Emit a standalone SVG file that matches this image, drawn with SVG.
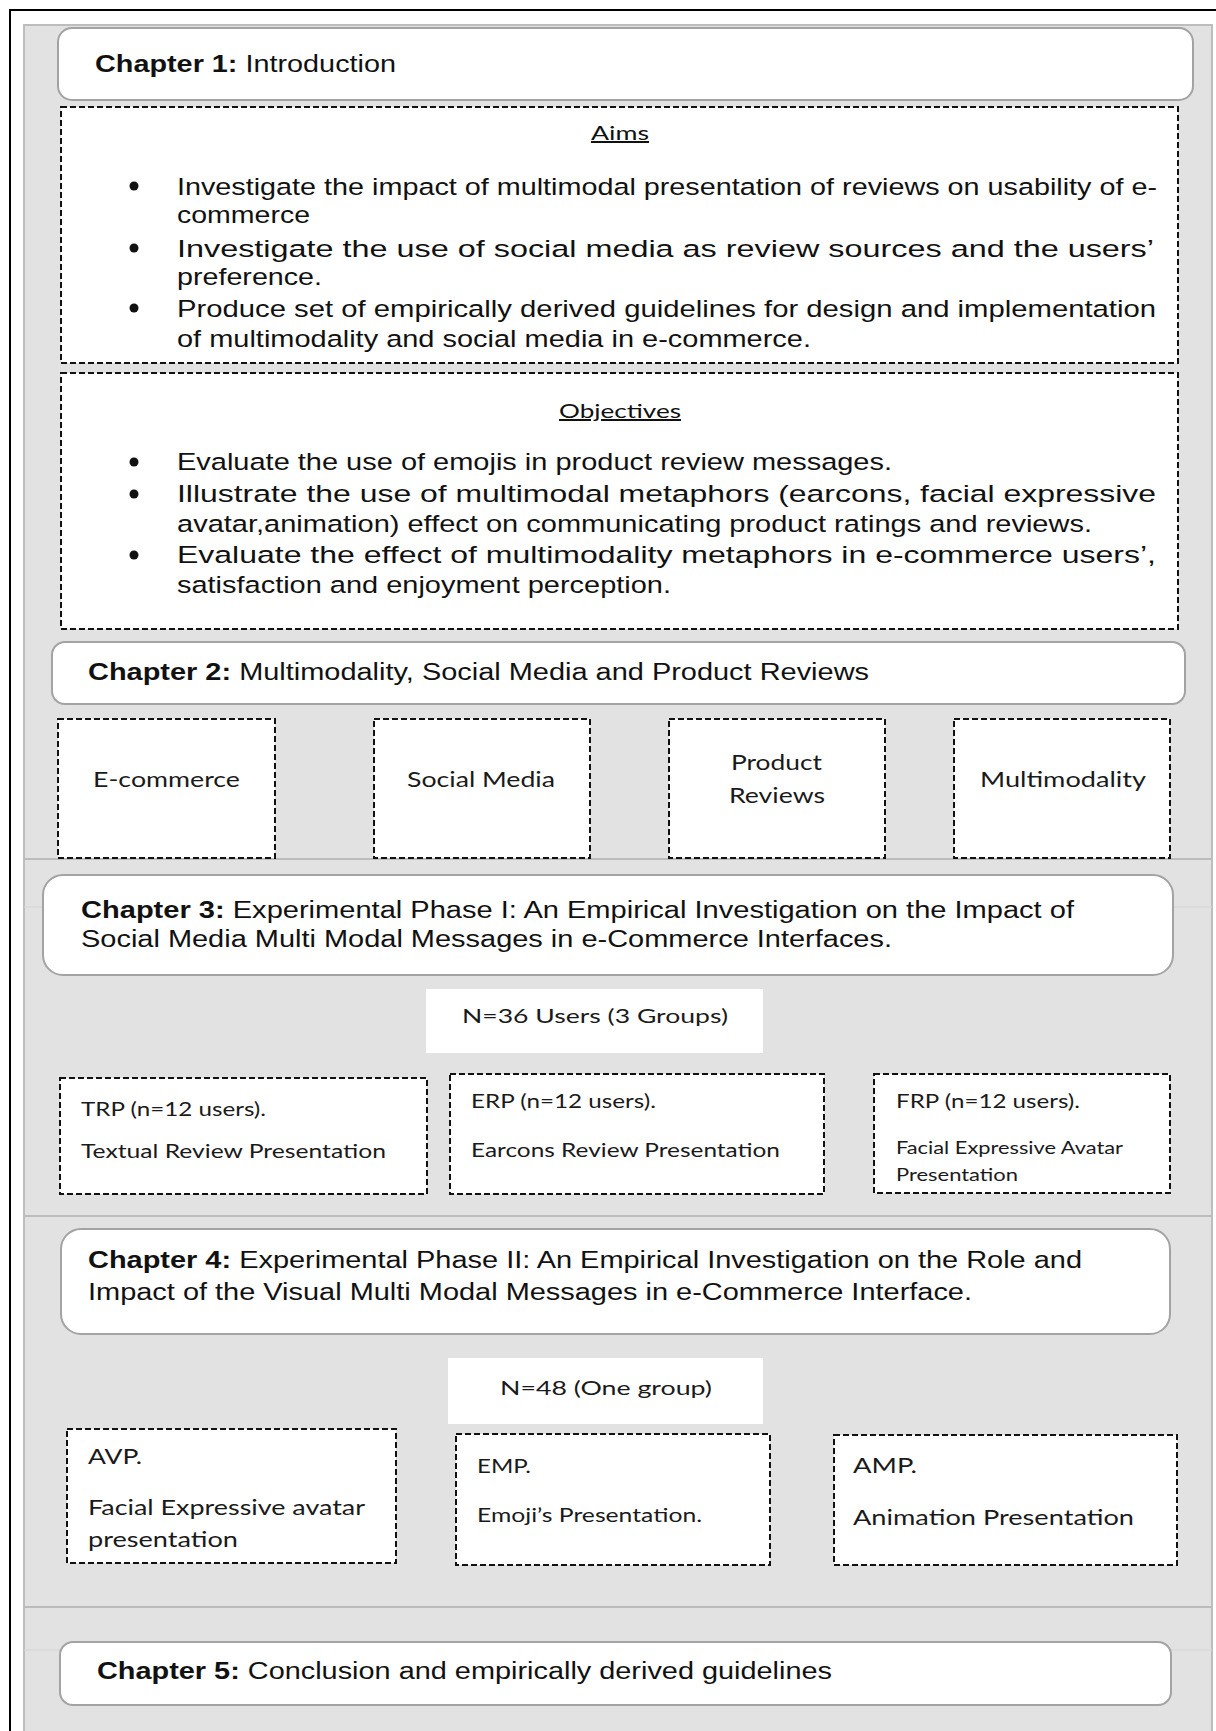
<svg xmlns="http://www.w3.org/2000/svg" width="1216" height="1731" viewBox="0 0 1216 1731">
  <style>
    .chap { fill: #ffffff; stroke: #a3a3a3; stroke-width: 2; }
    .dash { fill: #ffffff; stroke: #111111; stroke-width: 2; stroke-dasharray: 6 3; }
    .plain { fill: #ffffff; stroke: none; }
    .sep { stroke: #bcbcbc; stroke-width: 2; fill: none; }
    .faint { stroke: #d5d5d5; stroke-width: 1; fill: none; }
    .dot { fill: #111111; }
    .h { font-family: "Liberation Sans", Arial, sans-serif; font-size: 23.5px; fill: #111111; }
    .b { font-weight: bold; }
    .li { font-family: "Liberation Sans", Arial, sans-serif; font-size: 24.5px; fill: #111111; }
    .ttl { font-family: Lato, "Noto Sans", sans-serif; font-size: 20px; fill: #111111; text-decoration: underline; }
    .c21 { font-family: Lato, "Noto Sans", sans-serif; font-size: 21px; fill: #1a1a1a; }
    .c19 { font-family: Lato, "Noto Sans", sans-serif; font-size: 18.6px; fill: #1a1a1a; }
    .c18 { font-family: Lato, "Noto Sans", sans-serif; font-size: 18.5px; fill: #1a1a1a; }
    .c17 { font-family: Lato, "Noto Sans", sans-serif; font-size: 17.7px; fill: #1a1a1a; }
  </style>

  <!-- page frame and shaded table area -->
  <g id="background">
    <rect x="0" y="0" width="1216" height="1731" fill="#ffffff"/>
    <rect x="24" y="25" width="1188" height="1712" fill="#e2e2e2" stroke="#bdbdbd" stroke-width="2"/>
    <path d="M10 1731 V10 H1216" fill="none" stroke="#000000" stroke-width="2"/>
    <line class="sep" x1="24" y1="859" x2="1212" y2="859"/>
    <line class="sep" x1="24" y1="1216" x2="1212" y2="1216"/>
    <line class="sep" x1="24" y1="1607" x2="1212" y2="1607"/>
    <line class="faint" x1="24" y1="907" x2="1212" y2="907"/>
    <line class="faint" x1="24" y1="1650" x2="1212" y2="1650"/>
  </g>

  <!-- no connectors in this layout -->
  <g id="connectors"></g>

  <!-- Chapter 1 -->
  <g id="chapter1">
    <rect class="chap" x="58" y="28" width="1135" height="72" rx="14"/>
    <text class="h" x="95" y="72" textLength="301" lengthAdjust="spacingAndGlyphs"><tspan class="b">Chapter 1:</tspan> Introduction</text>
  </g>

  <g id="aims">
    <rect class="dash" x="61" y="107" width="1117" height="256"/>
    <text class="ttl" x="591" y="140" textLength="58" lengthAdjust="spacingAndGlyphs">Aims</text>
    <circle class="dot" cx="134" cy="186" r="4.5"/>
    <text class="li" x="177" y="195" textLength="980" lengthAdjust="spacingAndGlyphs">Investigate the impact of multimodal presentation of reviews on usability of e-</text>
    <text class="li" x="177" y="223" textLength="133" lengthAdjust="spacingAndGlyphs">commerce</text>
    <circle class="dot" cx="134" cy="248" r="4.5"/>
    <text class="li" x="177" y="257" textLength="977" lengthAdjust="spacingAndGlyphs">Investigate the use of social media as review sources and the users’</text>
    <text class="li" x="177" y="285" textLength="145" lengthAdjust="spacingAndGlyphs">preference.</text>
    <circle class="dot" cx="134" cy="308" r="4.5"/>
    <text class="li" x="177" y="317" textLength="979" lengthAdjust="spacingAndGlyphs">Produce set of empirically derived guidelines for design and implementation</text>
    <text class="li" x="177" y="347" textLength="634" lengthAdjust="spacingAndGlyphs">of multimodality and social media in e-commerce.</text>
  </g>

  <g id="objectives">
    <rect class="dash" x="61" y="373" width="1117" height="256"/>
    <text class="ttl" x="559" y="418" textLength="122" lengthAdjust="spacingAndGlyphs">Objectives</text>
    <circle class="dot" cx="134" cy="462" r="4.5"/>
    <text class="li" x="177" y="470" textLength="715" lengthAdjust="spacingAndGlyphs">Evaluate the use of emojis in product review messages.</text>
    <circle class="dot" cx="134" cy="494" r="4.5"/>
    <text class="li" x="177" y="502" textLength="979" lengthAdjust="spacingAndGlyphs">Illustrate the use of multimodal metaphors (earcons, facial expressive</text>
    <text class="li" x="177" y="532" textLength="915" lengthAdjust="spacingAndGlyphs">avatar,animation) effect on communicating product ratings and reviews.</text>
    <circle class="dot" cx="134" cy="555" r="4.5"/>
    <text class="li" x="177" y="563" textLength="979" lengthAdjust="spacingAndGlyphs">Evaluate the effect of multimodality metaphors in e-commerce users’,</text>
    <text class="li" x="177" y="593" textLength="494" lengthAdjust="spacingAndGlyphs">satisfaction and enjoyment perception.</text>
  </g>

  <!-- Chapter 2 -->
  <g id="chapter2">
    <rect class="chap" x="52" y="642" width="1133" height="62" rx="13"/>
    <text class="h" x="88" y="680" textLength="781" lengthAdjust="spacingAndGlyphs"><tspan class="b">Chapter 2:</tspan> Multimodality, Social Media and Product Reviews</text>
  </g>

  <g id="ecommerce">
    <rect class="dash" x="58" y="719" width="217" height="139"/>
    <text class="c21" x="93" y="787" textLength="147" lengthAdjust="spacingAndGlyphs">E-commerce</text>
  </g>
  <g id="social-media">
    <rect class="dash" x="374" y="719" width="216" height="139"/>
    <text class="c21" x="407" y="787" textLength="148" lengthAdjust="spacingAndGlyphs">Social Media</text>
  </g>
  <g id="product-reviews">
    <rect class="dash" x="669" y="719" width="216" height="139"/>
    <text class="c21" x="731" y="770" textLength="91" lengthAdjust="spacingAndGlyphs">Product</text>
    <text class="c21" x="729" y="803" textLength="96" lengthAdjust="spacingAndGlyphs">Reviews</text>
  </g>
  <g id="multimodality">
    <rect class="dash" x="954" y="719" width="216" height="139"/>
    <text class="c21" x="980" y="787" textLength="166" lengthAdjust="spacingAndGlyphs">Multimodality</text>
  </g>

  <!-- Chapter 3 -->
  <g id="chapter3">
    <rect class="chap" x="43" y="875" width="1130" height="100" rx="20"/>
    <text class="h" x="81" y="918" textLength="993" lengthAdjust="spacingAndGlyphs"><tspan class="b">Chapter 3:</tspan> Experimental Phase I: An Empirical Investigation on the Impact of</text>
    <text class="h" x="81" y="947" textLength="811" lengthAdjust="spacingAndGlyphs">Social Media Multi Modal Messages in e-Commerce Interfaces.</text>
  </g>

  <g id="n36">
    <rect class="plain" x="426" y="989" width="337" height="64"/>
    <text class="c19" x="462" y="1023" textLength="266" lengthAdjust="spacingAndGlyphs">N=36 Users (3 Groups)</text>
  </g>

  <g id="trp">
    <rect class="dash" x="60" y="1078" width="367" height="116"/>
    <text class="c18" x="81" y="1116" textLength="185" lengthAdjust="spacingAndGlyphs">TRP (n=12 users).</text>
    <text class="c18" x="81" y="1158" textLength="305" lengthAdjust="spacingAndGlyphs">Textual Review Presentation</text>
  </g>
  <g id="erp">
    <rect class="dash" x="450" y="1074" width="374" height="120"/>
    <text class="c18" x="471" y="1108" textLength="185" lengthAdjust="spacingAndGlyphs">ERP (n=12 users).</text>
    <text class="c18" x="471" y="1157" textLength="309" lengthAdjust="spacingAndGlyphs">Earcons Review Presentation</text>
  </g>
  <g id="frp">
    <rect class="dash" x="874" y="1074" width="296" height="119"/>
    <text class="c18" x="896" y="1108" textLength="184" lengthAdjust="spacingAndGlyphs">FRP (n=12 users).</text>
    <text class="c17" x="896" y="1154" textLength="227" lengthAdjust="spacingAndGlyphs">Facial Expressive Avatar</text>
    <text class="c17" x="896" y="1181" textLength="122" lengthAdjust="spacingAndGlyphs">Presentation</text>
  </g>

  <!-- Chapter 4 -->
  <g id="chapter4">
    <rect class="chap" x="61" y="1229" width="1109" height="105" rx="20"/>
    <text class="h" x="88" y="1268" textLength="994" lengthAdjust="spacingAndGlyphs"><tspan class="b">Chapter 4:</tspan> Experimental Phase II: An Empirical Investigation on the Role and</text>
    <text class="h" x="88" y="1300" textLength="884" lengthAdjust="spacingAndGlyphs">Impact of the Visual Multi Modal Messages in e-Commerce Interface.</text>
  </g>

  <g id="n48">
    <rect class="plain" x="448" y="1358" width="315" height="66"/>
    <text class="c19" x="500" y="1395" textLength="212" lengthAdjust="spacingAndGlyphs">N=48 (One group)</text>
  </g>

  <g id="avp">
    <rect class="dash" x="67" y="1429" width="329" height="134"/>
    <text class="c21" x="88" y="1464" textLength="54" lengthAdjust="spacingAndGlyphs">AVP.</text>
    <text class="c21" x="88" y="1515" textLength="277" lengthAdjust="spacingAndGlyphs">Facial Expressive avatar</text>
    <text class="c21" x="88" y="1547" textLength="150" lengthAdjust="spacingAndGlyphs">presentation</text>
  </g>
  <g id="emp">
    <rect class="dash" x="456" y="1434" width="314" height="131"/>
    <text class="c18" x="477" y="1473" textLength="54" lengthAdjust="spacingAndGlyphs">EMP.</text>
    <text class="c18" x="477" y="1522" textLength="225" lengthAdjust="spacingAndGlyphs">Emoji’s Presentation.</text>
  </g>
  <g id="amp">
    <rect class="dash" x="834" y="1435" width="343" height="130"/>
    <text class="c21" x="853" y="1473" textLength="64" lengthAdjust="spacingAndGlyphs">AMP.</text>
    <text class="c21" x="853" y="1525" textLength="281" lengthAdjust="spacingAndGlyphs">Animation Presentation</text>
  </g>

  <!-- Chapter 5 -->
  <g id="chapter5">
    <rect class="chap" x="60" y="1642" width="1111" height="63" rx="13"/>
    <text class="h" x="97" y="1679" textLength="735" lengthAdjust="spacingAndGlyphs"><tspan class="b">Chapter 5:</tspan> Conclusion and empirically derived guidelines</text>
  </g>
</svg>
